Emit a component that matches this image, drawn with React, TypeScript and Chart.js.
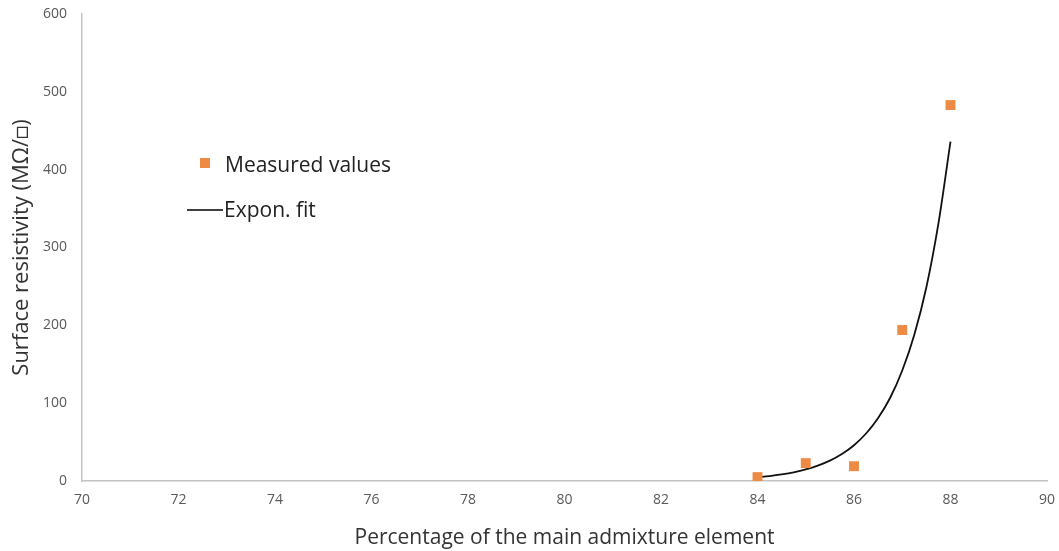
import React, { useEffect, useRef } from "react";
import { Chart, registerables } from "chart.js";

Chart.register(...registerables);

const measuredX = [84, 85, 86, 87, 88];
const measuredY = [5, 23, 19, 194, 483];

const fitX = [84, 84.25, 84.5, 84.75, 85, 85.25, 85.5, 85.75, 86, 86.25, 86.5, 86.75, 87, 87.25, 87.5, 87.75, 88];
const fitY = [4.8, 6.4, 8.5, 11.2, 14.9, 19.8, 26.2, 34.7, 46, 61, 81, 107, 142, 188, 249, 331, 436];

const xTicks = [70, 72, 74, 76, 78, 80, 82, 84, 86, 88, 90];
const yTicks = [0, 100, 200, 300, 400, 500, 600];

const seriesNames = ["Measured values", "Expon. fit"];
const xTitle = "Percentage of the main admixture element";
const yTitle = "Surface resistivity (MΩ/□)";

const ORANGE = "#ED8B45";
const FONT = "'Open Sans', Lato, 'DejaVu Sans', sans-serif";

const legendPlugin = {
  id: "customLegend",
  afterDraw(chart: any) {
    const ctx = chart.ctx;
    ctx.save();
    ctx.fillStyle = ORANGE;
    ctx.fillRect(200, 158, 10, 10);
    ctx.strokeStyle = "#000";
    ctx.lineWidth = 1.5;
    ctx.beginPath();
    ctx.moveTo(187, 210);
    ctx.lineTo(223, 210);
    ctx.stroke();
    ctx.fillStyle = "#222";
    ctx.font = `21px ${FONT}`;
    ctx.textBaseline = "middle";
    ctx.fillText(seriesNames[0], 225, 166);
    ctx.fillText(seriesNames[1], 224, 211);
    ctx.restore();
  },
};

export default function App() {
  const ref = useRef<HTMLCanvasElement>(null);
  useEffect(() => {
    if (!ref.current) return;
    const chart = new Chart(ref.current, {
      type: "scatter",
      data: {
        datasets: [
          {
            label: seriesNames[1],
            data: fitX.map((x, i) => ({ x, y: fitY[i] })),
            showLine: true,
            borderColor: "#111",
            borderWidth: 1.8,
            pointRadius: 0,
            cubicInterpolationMode: "monotone",
            order: 2,
          } as any,
          {
            label: seriesNames[0],
            data: measuredX.map((x, i) => ({ x, y: measuredY[i] })),
            backgroundColor: ORANGE,
            borderColor: ORANGE,
            borderWidth: 0,
            pointStyle: "rect",
            pointRadius: 7,
            order: 1,
          } as any,
        ],
      },
      options: {
        animation: false,
        responsive: false,
        maintainAspectRatio: false,
        layout: { padding: { left: 0, right: 12, top: 14, bottom: 0 } },
        plugins: { legend: { display: false }, tooltip: { enabled: false } },
        scales: {
          x: {
            type: "linear",
            min: 70,
            max: 90,
            afterBuildTicks: (axis: any) => {
              axis.ticks = xTicks.map((v) => ({ value: v }));
            },
            afterFit: (axis: any) => {
              axis.height = 70;
              axis.paddingLeft = 0;
              axis.paddingRight = 0;
            },
            grid: { display: false, drawTicks: false },
            border: { display: true, color: "#c4c4c4", width: 1.5 },
            ticks: {
              color: "#595959",
              font: { family: FONT, size: 14 },
              padding: 11,
              maxRotation: 0,
            },
            title: {
              display: true,
              text: xTitle,
              color: "#333",
              font: { family: FONT, size: 21 },
              padding: { top: 0, bottom: 0 },
            },
          },
          y: {
            type: "linear",
            min: 0,
            max: 600,
            afterBuildTicks: (axis: any) => {
              axis.ticks = yTicks.map((v) => ({ value: v }));
            },
            afterFit: (axis: any) => {
              axis.width = 82;
              axis.paddingTop = 0;
              axis.paddingBottom = 0;
            },
            grid: { display: false, drawTicks: false },
            border: { display: true, color: "#c4c4c4", width: 1.5 },
            ticks: {
              color: "#595959",
              font: { family: FONT, size: 14 },
              padding: 15,
            },
            title: {
              display: true,
              text: yTitle,
              color: "#333",
              font: { family: FONT, size: 22 },
              padding: { top: 9, bottom: 8 },
            },
          },
        },
      },
      plugins: [legendPlugin],
    } as any);
    return () => chart.destroy();
  }, []);
  return (
    <div style={{ position: "fixed", left: 0, top: 0, width: 1059, height: 551, background: "#fff" }}>
      <canvas ref={ref} width={1059} height={551} style={{ width: 1059, height: 551 }} />
    </div>
  );
}
